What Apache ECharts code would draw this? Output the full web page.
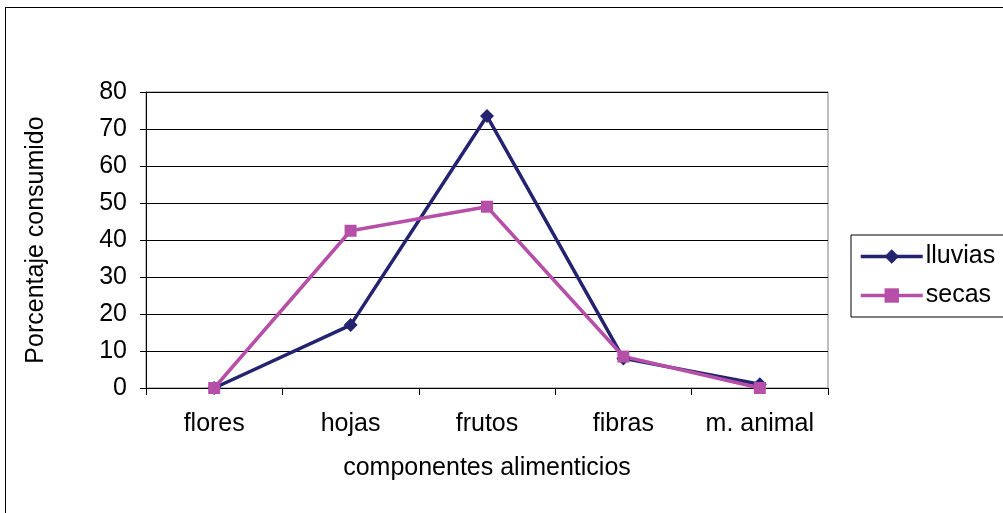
<!DOCTYPE html>
<html>
<head>
<meta charset="utf-8">
<script src="https://cdn.jsdelivr.net/npm/echarts@6/dist/echarts.min.js"></script>
<style>
  html, body { margin: 0; padding: 0; background: #fff; }
  #frame { position: absolute; left: 5px; top: 7px; width: 1000px; height: 510px; border: 1px solid #000; box-sizing: border-box; }
  #chart { position: absolute; left: 0; top: 0; width: 1003px; height: 513px; }
</style>
</head>
<body>
<div id="frame"></div>
<div id="chart"></div>
<script>
// Food components and percentage consumed per season
const categories = ['flores', 'hojas', 'frutos', 'fibras', 'm. animal'];
const lluvias = [0, 17, 73.5, 8, 1];
const secas = [0, 42.5, 49, 8.5, 0];
const yTicks = { min: 0, max: 80, interval: 10 };

const font = 'Liberation Sans, Arial, sans-serif';
const fs = 25;
const chart = echarts.init(document.getElementById('chart'), null, { renderer: 'canvas' });

chart.setOption({
  animation: false,
  backgroundColor: 'transparent',
  grid: {
    left: 146, right: 175, top: 92, bottom: 125,
    show: true, borderColor: '#808080', borderWidth: 1
  },
  legend: {
    orient: 'vertical',
    left: 851, top: 235,
    padding: [9, 10, 9, 8],
    itemGap: 14,
    itemWidth: 62,
    itemHeight: 18,
    borderColor: '#000', borderWidth: 1,
    lineStyle: { width: 3.5 },
    textStyle: { fontFamily: font, fontSize: fs, color: '#000', padding: [0, 0, 0, -2] },
    data: ['lluvias', 'secas']
  },
  xAxis: {
    type: 'category',
    data: categories,
    boundaryGap: true,
    name: 'componentes alimenticios',
    nameLocation: 'middle',
    nameGap: 68,
    nameTextStyle: { fontFamily: font, fontSize: fs, color: '#000' },
    axisLine: { lineStyle: { color: '#000', width: 1 } },
    axisTick: { show: true, length: 7, lineStyle: { color: '#000' } },
    axisLabel: { fontFamily: font, fontSize: fs, color: '#000', margin: 24, interval: 0 },
    splitLine: { show: false }
  },
  yAxis: {
    type: 'value',
    min: yTicks.min, max: yTicks.max, interval: yTicks.interval,
    name: 'Porcentaje consumido',
    nameLocation: 'middle',
    nameRotate: 90,
    nameGap: 97,
    nameTextStyle: { fontFamily: font, fontSize: fs, color: '#000' },
    axisLine: { show: true, lineStyle: { color: '#000', width: 1 } },
    axisTick: { show: true, length: 6, lineStyle: { color: '#000' } },
    axisLabel: { fontFamily: font, fontSize: fs, color: '#000', margin: 19 },
    splitLine: { show: true, lineStyle: { color: '#000', width: 1 } }
  },
  series: [
    {
      name: 'lluvias',
      type: 'line',
      data: lluvias,
      symbol: 'diamond',
      symbolSize: 14,
      lineStyle: { color: '#232370', width: 3.5 },
      itemStyle: { color: '#232370' }
    },
    {
      name: 'secas',
      type: 'line',
      data: secas,
      symbol: 'rect',
      symbolSize: 12,
      lineStyle: { color: '#b64fa8', width: 3.5 },
      itemStyle: { color: '#b64fa8' }
    }
  ]
});
</script>
</body>
</html>
